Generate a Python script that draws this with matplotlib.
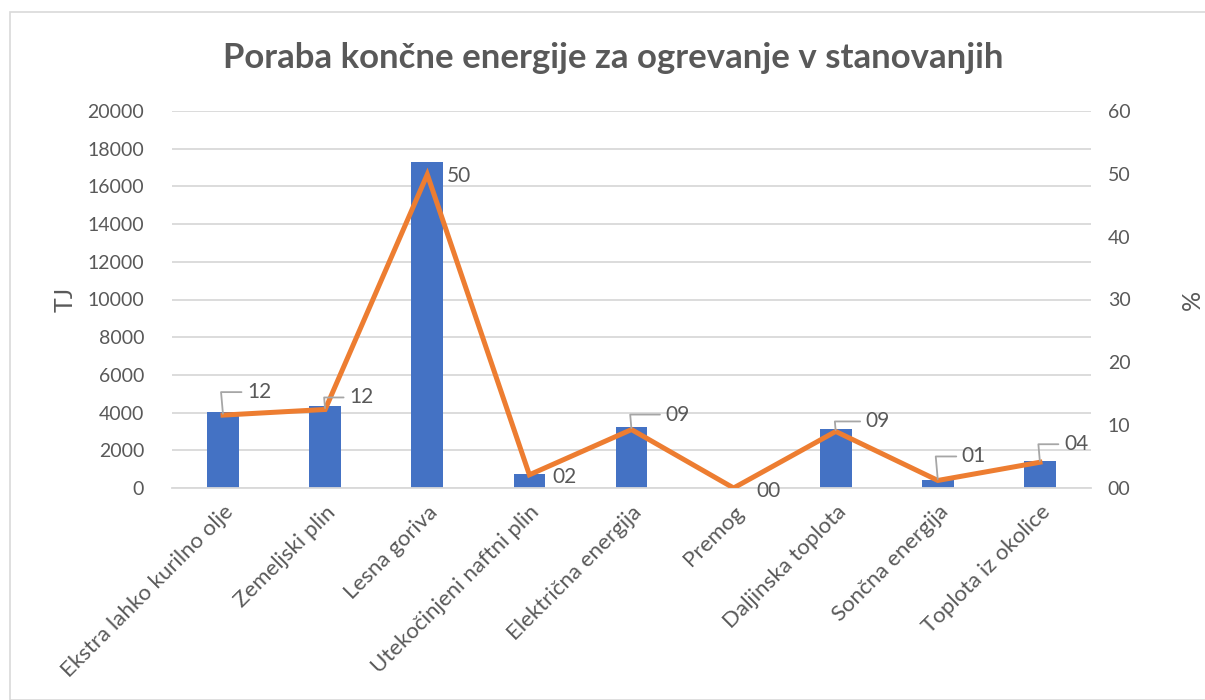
import matplotlib.pyplot as plt
from matplotlib.patches import Rectangle

plt.rcParams['font.family'] = ['Lato', 'DejaVu Sans']

# ---- data ----
categories = ["Ekstra lahko kurilno olje", "Zemeljski plin", "Lesna goriva",
              "Utekočinjeni naftni plin", "Električna energija", "Premog",
              "Daljinska toplota", "Sončna energija", "Toplota iz okolice"]
tj_values = [4030, 4350, 17300, 740, 3240, 0, 3130, 420, 1430]
pct_values = [11.6, 12.5, 49.9, 2.1, 9.3, 0.0, 9.0, 1.2, 4.1]
left_ticks = [0, 2000, 4000, 6000, 8000, 10000, 12000, 14000, 16000, 18000, 20000]
right_ticks = [0, 10, 20, 30, 40, 50, 60]

# label offsets (pixels) and whether a leader line is drawn
label_offsets = [(24, 23), (24, 12), (20, -2), (23, -2), (34, 15),
                 (23, -3), (30, 10), (24, 24), (24, 18)]
label_leader = [True, True, False, False, True, False, True, True, True]

GREY = '#595959'
BLUE = '#4472C4'
ORANGE = '#ED7D31'

fig = plt.figure(figsize=(12.05, 7.0), dpi=100)
fig.patches.append(Rectangle((10/1205, 0), 1.2, 1 - 12/700, transform=fig.transFigure,
                             fill=False, edgecolor='#d9d9d9', linewidth=1.2))

ax1 = fig.add_axes([172/1205, 1 - 488/700, (1091 - 172)/1205, (488 - 111)/700])
x = list(range(len(categories)))
ax1.bar(x, tj_values, width=0.31, color=BLUE, zorder=2)
ax1.set_xlim(-0.5, len(categories) - 0.5)
ax1.set_ylim(0, 20000)
ax1.set_yticks(left_ticks)
ax1.grid(axis='y', color='#d9d9d9', linewidth=1.3, zorder=0)
ax1.set_axisbelow(True)
for s in ['top', 'right', 'left']:
    ax1.spines[s].set_visible(False)
ax1.spines['bottom'].set_color('#d9d9d9')
ax1.spines['bottom'].set_linewidth(1.3)
ax1.tick_params(axis='y', length=0, labelsize=14, labelcolor=GREY, pad=20)
ax1.set_xticks(x)
ax1.set_xticklabels(categories, rotation=45, ha='right', rotation_mode='anchor')
ax1.tick_params(axis='x', length=0, labelsize=16, labelcolor=GREY, pad=10)
ax1.set_ylabel("TJ", fontsize=18, color=GREY, labelpad=8)

ax2 = ax1.twinx()
ax2.plot(x, pct_values, color=ORANGE, linewidth=3.6, zorder=3, solid_joinstyle='miter')
ax2.set_ylim(0, 60)
ax2.set_yticks(right_ticks)
ax2.set_yticklabels([f"{t:02d}" for t in right_ticks])
for s in ['top', 'right', 'left', 'bottom']:
    ax2.spines[s].set_visible(False)
ax2.tick_params(axis='y', length=0, labelsize=14, labelcolor=GREY, pad=12)
ax2.set_ylabel("%", fontsize=18, color=GREY, labelpad=36)

for xi, v, (dx, dy), lead in zip(x, pct_values, label_offsets, label_leader):
    arrow = None
    if lead:
        arrow = dict(arrowstyle='-', color='#a6a6a6', linewidth=1.3,
                     shrinkA=2, shrinkB=1, relpos=(0, 0.5),
                     connectionstyle='angle,angleA=0,angleB=95,rad=0')
    ax2.annotate(f"{v:02.0f}", xy=(xi, v), xytext=(dx, dy), textcoords='offset pixels',
                 fontsize=15, color=GREY, ha='left', va='center', arrowprops=arrow)

fig.text(613/1205, 1 - 58/700, "Poraba končne energije za ogrevanje v stanovanjih",
         ha='center', va='center', fontsize=25, fontweight='bold', color=GREY)

fig.savefig("out.png", dpi=100)
